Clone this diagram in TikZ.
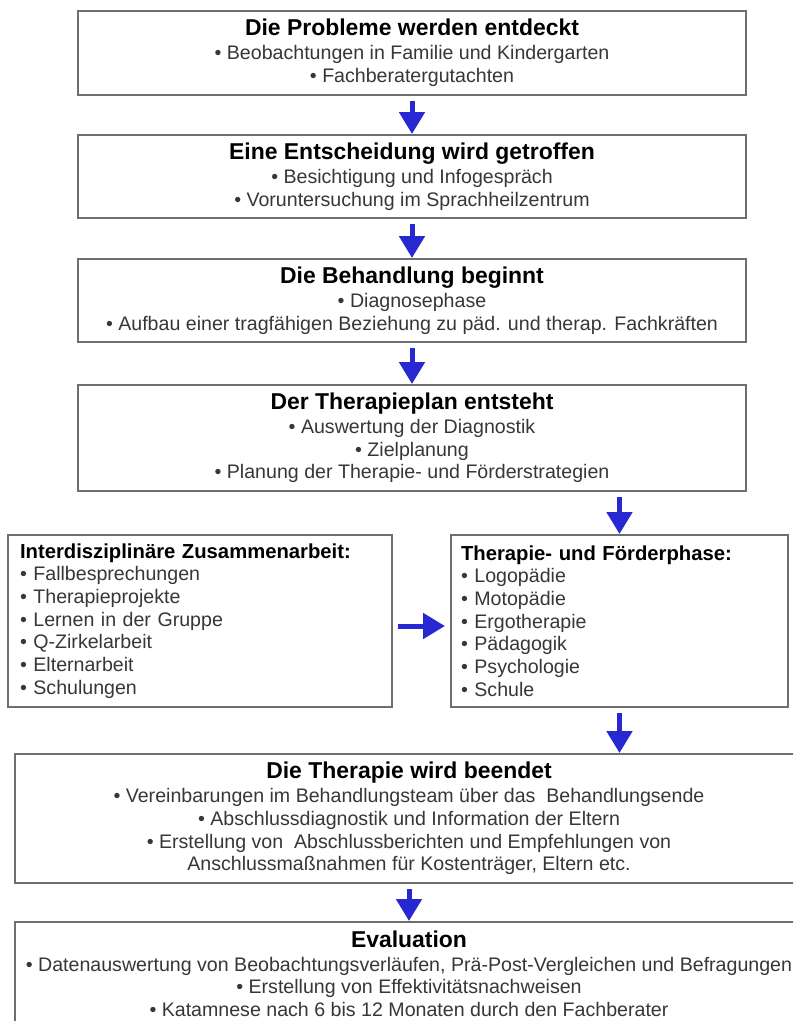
\documentclass[tikz,border=0pt]{standalone}
\usepackage{fontspec}
\setmainfont{Liberation Sans}
\usetikzlibrary{arrows.meta}
\definecolor{arrowblue}{RGB}{40,40,210}
\definecolor{boxgray}{RGB}{110,110,110}
\definecolor{txtgray}{RGB}{55,55,55}
\tikzset{
  flowbox/.style={draw=boxgray, line width=1.5pt, fill=white, rectangle, inner sep=0pt,
    align=center, text=txtgray, font=\fontsize{14.7}{17}\selectfont},
  sidebox/.style={flowbox, align=left},
  flowarrow/.style={draw=arrowblue, line width=3.75pt,
    -{Triangle[width=18.75pt,length=16.5pt]}, shorten <=3.75pt},
}
\newcommand{\boxtitle}[1]{{\color{black}\fontsize{17.2}{20}\selectfont\bfseries #1}}
\newcommand{\sidetitle}[1]{{\color{black}\fontsize{15.2}{17}\selectfont\bfseries #1}}
\begin{document}
\begin{tikzpicture}[x=0.75pt,y=-0.75pt]
\useasboundingbox (0,0) rectangle (793,1021);
\fill[white] (0,0) rectangle (793,1021);
\clip (0,0) rectangle (793,1021);

\node[flowbox, minimum width=501pt, minimum height=63pt] (b1) at (412,53)
  {\boxtitle{Die Probleme werden entdeckt}\\[1pt]
   • Beobachtungen in Familie und Kindergarten\\
   • Fachberatergutachten};

\node[flowbox, minimum width=501pt, minimum height=62.25pt] (b2) at (412,176.5)
  {\boxtitle{Eine Entscheidung wird getroffen}\\[1pt]
   • Besichtigung und Infogespräch\\
   • Voruntersuchung im Sprachheilzentrum};

\node[flowbox, minimum width=501pt, minimum height=62.25pt] (b3) at (412,300.5)
  {\boxtitle{Die Behandlung beginnt}\\[1pt]
   • Diagnosephase\\
   • Aufbau einer tragfähigen Beziehung zu päd. und therap. Fachkräften};

\node[flowbox, minimum width=501pt, minimum height=79.5pt] (b4) at (412,438)
  {\boxtitle{Der Therapieplan entsteht}\\[1pt]
   • Auswertung der Diagnostik\\
   • Zielplanung\\
   • Planung der Therapie- und Förderstrategien};

\node[sidebox, text width=270pt, minimum width=288pt, minimum height=129pt] (lb) at (200,621)
  {\sidetitle{Interdisziplinäre Zusammenarbeit:}\\
   • Fallbesprechungen\\
   • Therapieprojekte\\
   • Lernen in der Gruppe\\
   • Q-Zirkelarbeit\\
   • Elternarbeit\\
   • Schulungen};

\node[sidebox, text width=237.75pt, minimum width=252.75pt, minimum height=129pt] (rb) at (619.5,621)
  {\sidetitle{Therapie- und Förderphase:}\\
   • Logopädie\\
   • Motopädie\\
   • Ergotherapie\\
   • Pädagogik\\
   • Psychologie\\
   • Schule};

\node[flowbox, minimum width=591pt, minimum height=96.75pt] (b6) at (409,818.5)
  {\boxtitle{Die Therapie wird beendet}\\[1pt]
   • Vereinbarungen im Behandlungsteam über das\ \ Behandlungsende\\
   • Abschlussdiagnostik und Information der Eltern\\
   • Erstellung von\ \ Abschlussberichten und Empfehlungen von\\
   Anschlussmaßnahmen für Kostenträger, Eltern etc.};

\node[flowbox, minimum width=591pt, minimum height=78pt] (b7) at (409,974)
  {\boxtitle{Evaluation}\\[0.5pt]
   • Datenauswertung von Beobachtungsverläufen, Prä-Post-Vergleichen und Befragungen\\
   • Erstellung von Effektivitätsnachweisen\\
   • Katamnese nach 6 bis 12 Monaten durch den Fachberater};

\draw[flowarrow] (b1) -- (b2);
\draw[flowarrow] (b2) -- (b3);
\draw[flowarrow] (b3) -- (b4);
\draw[flowarrow] (b4.south -| rb.north) -- (rb.north);
\draw[flowarrow, shorten >=3.75pt] ([yshift=-3.75pt]lb.east) -- ([yshift=-3.75pt]rb.west);
\draw[flowarrow] (rb.south) -- (rb.south |- b6.north);
\draw[flowarrow] (b6) -- (b7);
\end{tikzpicture}
\end{document}
